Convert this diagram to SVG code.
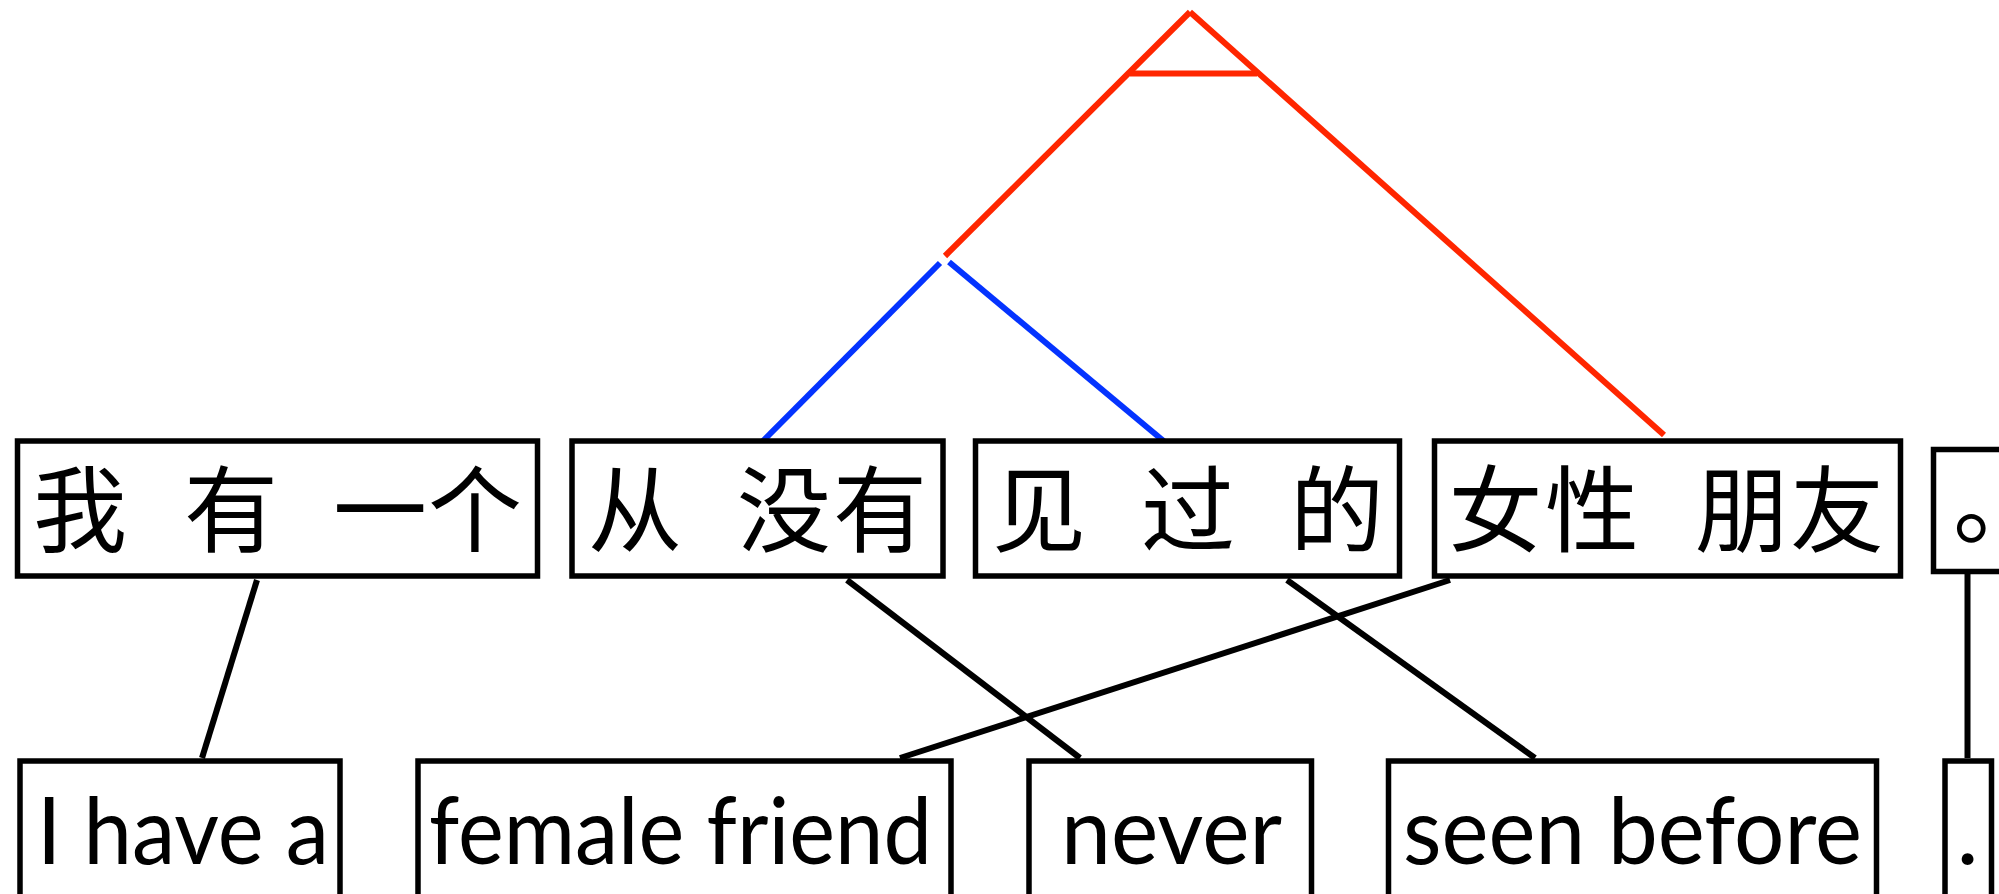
<svg xmlns="http://www.w3.org/2000/svg" width="1999" height="894" viewBox="0 0 1999 894">
<style>
.box{fill:#fff;stroke:#000;stroke-width:5.5}
.zh{font-family:"Noto Sans CJK SC","Noto Sans",sans-serif;font-size:94px;fill:#000;text-anchor:middle}
.en{font-family:Lato,"Liberation Sans",sans-serif;font-size:94px;fill:#000}
.k{stroke:#000;stroke-width:6;fill:none}
.r{stroke:#ff2600;stroke-width:6;fill:none}
.b{stroke:#0433ff;stroke-width:6;fill:none}
</style>
<rect width="1999" height="894" fill="#fff"/>
<g id="connectors">
<line class="r" x1="945" y1="256" x2="1190" y2="12"/>
<line class="r" x1="1190" y1="12" x2="1664" y2="435"/>
<line class="r" x1="1130" y1="73.5" x2="1257" y2="73.5"/>
<line class="b" x1="940" y1="263" x2="762" y2="442"/>
<line class="b" x1="949" y1="262" x2="1166" y2="443"/>
<line class="k" x1="257" y1="580" x2="202" y2="758"/>
<line class="k" x1="847" y1="580" x2="1080" y2="758"/>
<line class="k" x1="1287" y1="580" x2="1535" y2="758"/>
<line class="k" x1="1450" y1="580" x2="900" y2="758"/>
<line class="k" x1="1967.5" y1="574" x2="1967.5" y2="758"/>
</g>
<g id="zh1"><rect class="box" x="17.5" y="441" width="520" height="135"/><text class="zh" x="80 231 380 475" y="545">我有一个</text></g>
<g id="zh2"><rect class="box" x="572" y="441" width="371" height="135"/><text class="zh" x="635 784 880" y="545">从没有</text></g>
<g id="zh3"><rect class="box" x="975.5" y="441" width="424" height="135"/><text class="zh" x="1039 1188 1337" y="545">见过的</text></g>
<g id="zh4"><rect class="box" x="1434.5" y="441" width="466" height="135"/><text class="zh" x="1495.5 1592 1742 1837" y="545">女性朋友</text></g>
<g id="zh5"><rect class="box" x="1933.5" y="449.5" width="80" height="122"/><text class="zh" x="1953" y="537" style="text-anchor:start;letter-spacing:-66px">。</text></g>
<g id="en1"><rect class="box" x="20" y="761" width="320" height="200"/><text class="en" x="37" y="864" textLength="292" lengthAdjust="spacingAndGlyphs">I have a</text></g>
<g id="en2"><rect class="box" x="418" y="761" width="533" height="200"/><text class="en" x="429" y="864" textLength="503" lengthAdjust="spacingAndGlyphs">female friend</text></g>
<g id="en3"><rect class="box" x="1029" y="761" width="282.5" height="200"/><text class="en" x="1061" y="864" textLength="221" lengthAdjust="spacingAndGlyphs">never</text></g>
<g id="en4"><rect class="box" x="1388.5" y="761" width="488" height="200"/><text class="en" x="1403" y="864" textLength="459" lengthAdjust="spacingAndGlyphs">seen before</text></g>
<g id="en5"><rect class="box" x="1945" y="761" width="46.5" height="200"/><text class="en" x="1967.5" y="864" style="text-anchor:middle">.</text></g>
</svg>
